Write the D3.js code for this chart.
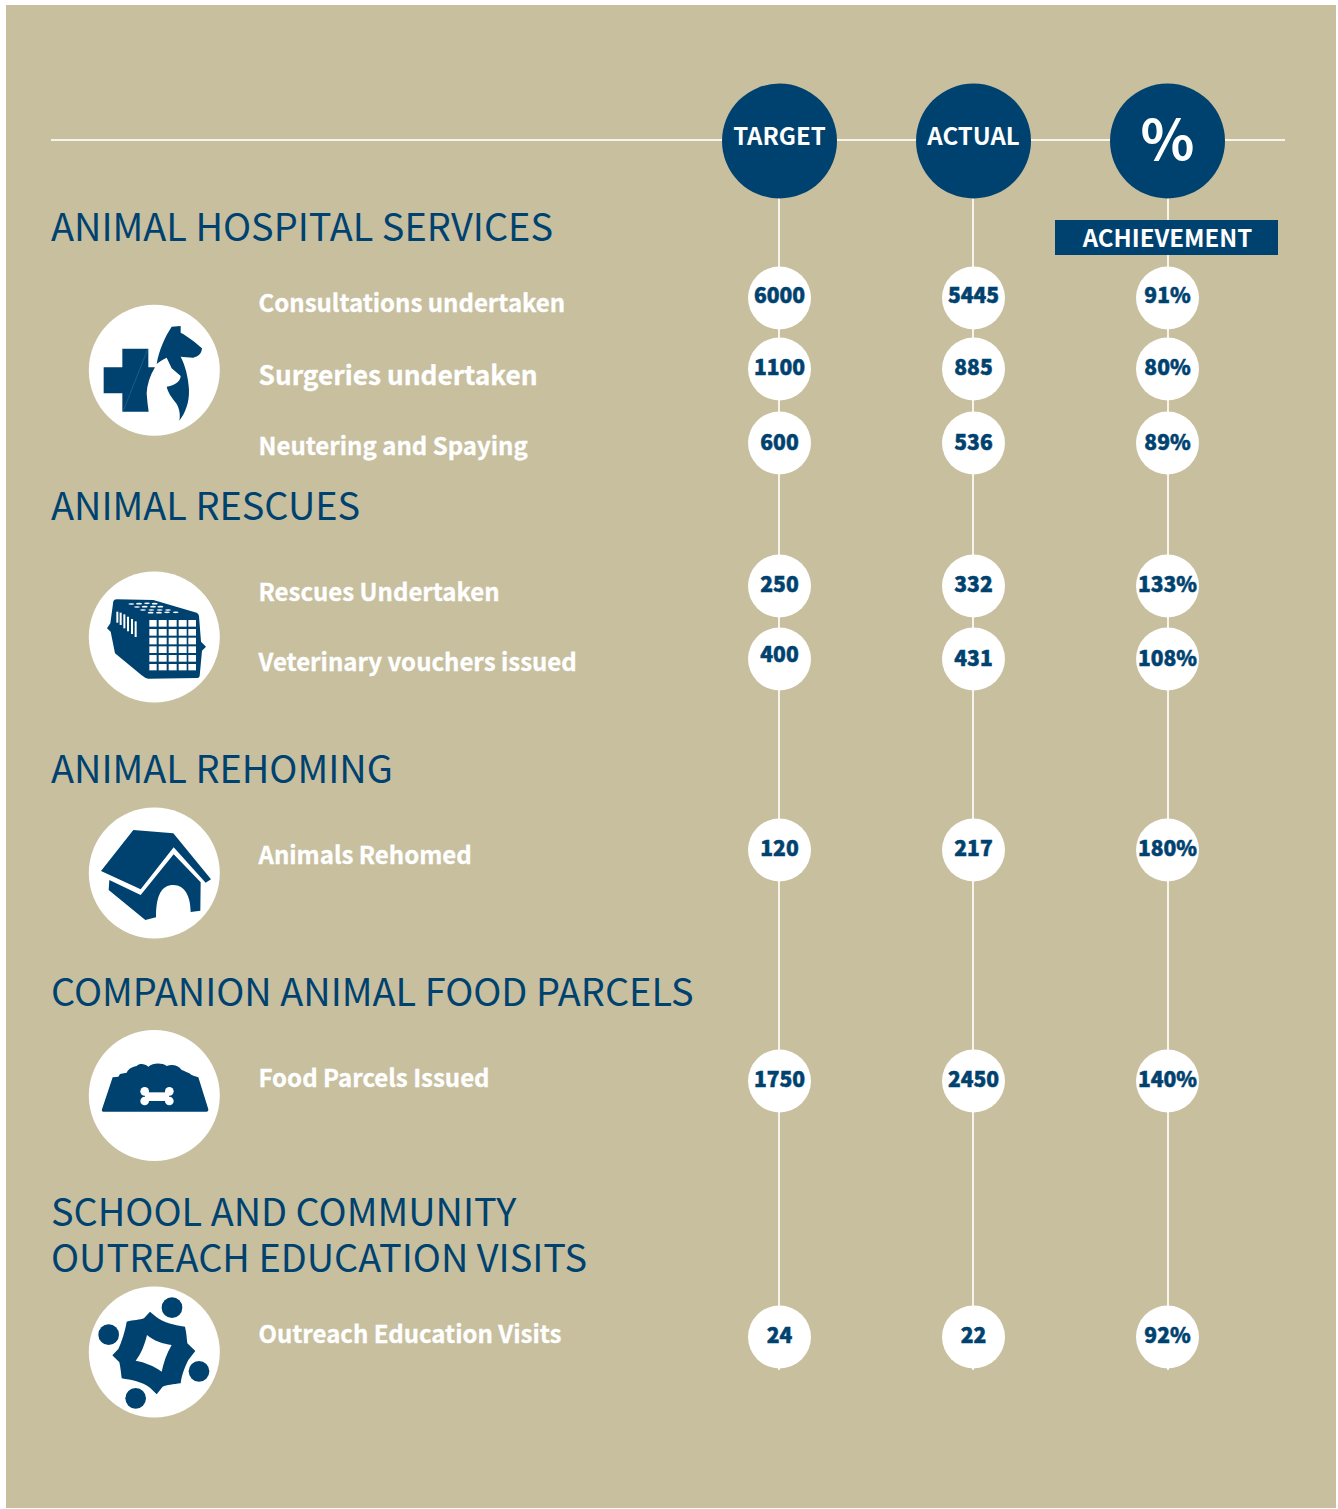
<!DOCTYPE html>
<html>
<head>
<meta charset="utf-8">
<script src="https://cdn.jsdelivr.net/npm/d3@7"></script>
<style>
  html, body { margin: 0; padding: 0; background: #fff; }
  text { font-family: "Noto Sans CJK SC", "Noto Sans", sans-serif; }
</style>
</head>
<body>
<div id="chart"></div>
<script>
// ---- Data ----
const columns = ['TARGET', 'ACTUAL', '%']
const rowLabels = [
  'Consultations undertaken', 'Surgeries undertaken', 'Neutering and Spaying',
  'Rescues Undertaken', 'Veterinary vouchers issued',
  'Animals Rehomed', 'Food Parcels Issued', 'Outreach Education Visits'
]
const targets = [6000, 1100, 600, 250, 400, 120, 1750, 24]
const actuals = [5445, 885, 536, 332, 431, 217, 2450, 22]
const achievement = [91, 80, 89, 133, 108, 180, 140, 92]
const sectionTitles = [
  ['ANIMAL HOSPITAL SERVICES'], ['ANIMAL RESCUES'], ['ANIMAL REHOMING'],
  ['COMPANION ANIMAL FOOD PARCELS'], ['SCHOOL AND COMMUNITY', 'OUTREACH EDUCATION VISITS']
]

// ---- Layout ----
const W = 1338, H = 1509
const navy = '#00426F', sand = '#C8BF9F', rule = '#F6F4EC'
const rowY = [298, 369, 443, 586, 659, 850, 1081, 1337]
const valueBase = [303, 375, 450, 592, 666, 856, 1087, 1343]
const labelY = [312, 385, 454.5, 601, 671, 864, 1087, 1343]
const labelSize = [24, 26.3, 24, 24, 24, 24, 24, 24]
const titleBase = [[241], [520], [783], [1006], [1226, 1272]]

const x = d3.scalePoint().domain(columns).range([779.5, 1167.5])
const y = d3.scaleOrdinal().domain(rowLabels).range(rowY)
const base = d3.scaleOrdinal().domain(rowLabels).range(valueBase)

const svg = d3.select('#chart').append('svg')
  .attr('width', W).attr('height', H).style('display', 'block')

svg.append('rect').attr('x', 6).attr('y', 5).attr('width', 1330).attr('height', 1503).attr('fill', sand)

// ---- Rules ----
svg.append('line').attr('x1', 51).attr('x2', 1285).attr('y1', 140).attr('y2', 140)
  .attr('stroke', rule).attr('stroke-width', 2)
svg.selectAll('.stem').data(columns).join('line').attr('class', 'stem')
  .attr('x1', d => d === '%' ? x(d) + 0.5 : x(d) - 0.5).attr('x2', d => d === '%' ? x(d) + 0.5 : x(d) - 0.5)
  .attr('y1', 141).attr('y2', y(rowLabels[rowLabels.length - 1]) + 33)
  .attr('stroke', rule).attr('stroke-width', 2)

// ---- Column heads ----
svg.selectAll('.head').data(columns).join('circle').attr('class', 'head')
  .attr('cx', d => x(d)).attr('cy', 141).attr('r', 57.5).attr('fill', navy)
svg.selectAll('.head-label').data(columns).join('text').attr('class', 'head-label')
  .attr('x', d => x(d)).attr('y', d => d === '%' ? 160 : 145)
  .attr('text-anchor', 'middle').attr('fill', '#fff')
  .attr('font-weight', 700)
  .attr('font-size', d => d === '%' ? 56 : 24)
  .text(d => d)

svg.append('rect').attr('x', 1055).attr('y', 220).attr('width', 223).attr('height', 35).attr('fill', navy)
svg.append('text').attr('x', x('%')).attr('y', 246.5).attr('text-anchor', 'middle')
  .attr('fill', '#fff').attr('font-weight', 700).attr('font-size', 24).text('ACHIEVEMENT')

// ---- Section titles ----
sectionTitles.forEach((lines, i) => {
  lines.forEach((line, j) => {
    svg.append('text').attr('x', 51).attr('y', titleBase[i][j])
      .attr('fill', navy).attr('font-size', 37.9).attr('font-weight', 400).text(line)
  })
})

// ---- Row labels ----
svg.selectAll('.row-label').data(rowLabels).join('text').attr('class', 'row-label')
  .attr('x', 258.5).attr('y', (d, i) => labelY[i])
  .attr('fill', '#fff').attr('font-weight', 700).attr('font-size', (d, i) => labelSize[i])
  .attr('stroke', '#fff').attr('stroke-width', 0.3)
  .text(d => d)

// ---- Value bubbles ----
const cells = columns.flatMap((c, ci) => rowLabels.map((r, ri) => ({
  column: c, row: r,
  text: ci === 0 ? String(targets[ri]) : ci === 1 ? String(actuals[ri]) : achievement[ri] + '%',
  lift: (ci === 0 && r === 'Veterinary vouchers issued') ? 4 : 0
})))
svg.selectAll('.bubble').data(cells).join('circle').attr('class', 'bubble')
  .attr('cx', d => x(d.column)).attr('cy', d => y(d.row)).attr('r', 31.5).attr('fill', '#fff')
svg.selectAll('.value').data(cells).join('text').attr('class', 'value')
  .attr('x', d => x(d.column)).attr('y', d => base(d.row) - d.lift)
  .attr('text-anchor', 'middle').attr('fill', navy).attr('font-weight', 900).attr('font-size', 21)
  .attr('stroke', navy).attr('stroke-width', 0.5)
  .text(d => d.text)

// ---- Icons ----
// paths are traced at 3x around each icon's own origin
function icon(cx, cy, ox, oy) {
  svg.append('circle').attr('cx', cx).attr('cy', cy).attr('r', 65.5).attr('fill', '#fff')
  return svg.append('g').attr('transform', `translate(${ox},${oy}) scale(${1 / 3})`).attr('fill', navy)
}

// hospital: cross, dog and cat
const g1 = icon(154.3, 370.3, 60, 290)
g1.append('path').attr('d', 'M187 176H265V232H285Q262 270 260 310Q262 340 266 365H187V310H131V232H187Z')
g1.append('path').attr('d', 'M290 222C297 180 315 140 335 110L362 108L362 128C385 140 410 160 426 175C425 190 415 200 400 203C385 203 372 200 362 200C375 225 385 260 387 300C388 340 375 370 358 392C362 375 358 350 345 335C335 322 325 310 320 290C340 288 362 275 362 258L335 235L320 203C305 210 295 218 290 222Z')
g1.append('line').attr('x1', 263).attr('y1', 178).attr('x2', 190).attr('y2', 362)
  .attr('stroke', '#3f7398').attr('stroke-width', 1.5)

// rescue: pet carrier
const g2 = icon(154.3, 637, 70, 560)
g2.append('path').attr('d', 'M130 124Q132 118 140 118L250 120L380 158Q386 160 387 168L393 245L408 260L396 272L389 348Q388 354 382 354L235 356Q225 355 215 346L135 280L122 215L111 205L121 190Z')
const gridX = [[238, 260], [266, 290], [296, 320], [326, 350], [355, 378]]
const gridY = [[180, 200], [207, 227], [233, 253], [259, 279], [285, 305], [312, 331]]
gridY.forEach(r => gridX.forEach(c => {
  g2.append('rect').attr('x', c[0]).attr('y', r[0]).attr('width', c[1] - c[0]).attr('height', r[1] - r[0]).attr('fill', '#fff')
}))
const slats = [[139, 155, 188], [149, 158, 195], [160, 163, 205], [171, 170, 214], [183, 177, 222], [194, 184, 231]]
slats.forEach(s => {
  g2.append('path').attr('d', `M${s[0]} ${s[1]}h6v${s[2] - s[1]}h-6Z`).attr('fill', '#fff')
})
const vents = [[175, 130], [198, 129], [222, 128], [245, 129], [192, 139], [215, 138], [240, 138], [262, 138], [210, 148], [235, 148], [260, 148], [285, 148], [233, 156], [258, 156], [282, 155], [308, 155]]
vents.forEach(v => {
  g2.append('ellipse').attr('cx', v[0] + 9).attr('cy', v[1] + 2).attr('rx', 9).attr('ry', 2.5).attr('fill', '#fff')
})

// rehoming: kennel
const g3 = icon(154.3, 873, 70, 800)
g3.append('path').attr('d', 'M190 90L310 100L423 238L407 248L311 142L212 268L93 213Z')
g3.append('path').attr('d', 'M118 240L212 285L311 163L392 247L391 332L362 336C362 290 345 255 310 255C275 255 258 285 258 352L226 360L116 270Z')

// food parcels: bowl with bone
const g4 = icon(154.3, 1095.5, 70, 1020)
g4.append('path').attr('d', 'M128 172L145 170L150 162L170 158C175 145 190 140 200 138C210 128 225 132 235 140C250 128 275 128 290 138C305 132 325 135 335 150C345 152 350 158 358 160C365 168 375 168 385 172L415 268Q416 275 410 275L100 275Q94 275 96 268Z')
const bone = g4.append('g').attr('fill', '#fff')
bone.append('rect').attr('x', 225).attr('y', 217).attr('width', 72).attr('height', 26)
;[[224, 214], [224, 243], [298, 214], [298, 243]].forEach(p => {
  bone.append('circle').attr('cx', p[0]).attr('cy', p[1]).attr('r', 13)
})

// outreach: people around a table
const g5 = icon(154.3, 1352, 70, 1275)
;[[306, 98], [116, 179], [387, 289], [197, 370]].forEach(p => {
  g5.append('circle').attr('cx', p[0]).attr('cy', p[1]).attr('r', 31)
})
g5.append('path').attr('fill-rule', 'evenodd').attr('d',
  'M240 110L258 125C280 142 310 150 345 155C350 175 350 190 352 205L376 228L355 255C345 275 335 300 332 325C310 328 290 330 278 335L260 358L240 338C215 320 185 315 155 310C153 295 152 280 148 262L127 241L145 222C155 200 165 170 170 140C190 135 210 135 222 130Z' +
  'M231 180C250 197 280 207 305 210C290 235 280 265 275 290C250 272 225 262 197 257C215 235 225 205 231 180Z')
</script>
</body>
</html>
